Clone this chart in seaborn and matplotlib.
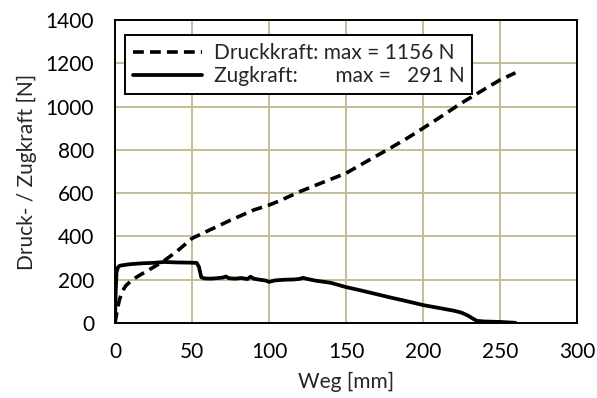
import pandas as pd
import seaborn as sns
import matplotlib.pyplot as plt

# Druckkraft (gestrichelt)
weg_druck = [0, 1, 2, 3, 5, 7, 10, 14, 18, 25, 31, 40, 50, 60, 75, 90, 100, 107,
             120, 135, 150, 163, 178, 190, 200, 212, 224, 237, 250, 260]
kraft_druck = [0, 40, 80, 110, 150, 172, 192, 212, 229, 258, 283, 330, 391, 425, 475,
               522, 545, 565, 607, 650, 692, 745, 805, 855, 900, 955, 1012, 1068, 1123, 1156]

# Zugkraft (durchgezogen)
weg_zug = [0, 0.5, 1, 2, 3.2, 6, 10, 18, 25, 32, 40, 48, 53, 54.5, 56, 58, 62, 66, 70,
           72, 74, 78, 82, 86, 88, 90, 94, 98, 100, 104, 110, 116, 120, 122, 124, 130,
           140, 150, 160, 170, 180, 190, 200, 210, 220, 225, 229, 232, 235, 240, 250, 260]
kraft_zug = [0, 150, 235, 258, 265, 268, 272, 276, 278, 282, 280, 279, 278, 260, 212, 206,
             205, 207, 210, 215, 207, 205, 208, 203, 214, 205, 200, 196, 190, 197, 200, 201,
             204, 209, 205, 196, 186, 166, 150, 133, 116, 100, 83, 70, 57, 48, 35, 22, 10,
             7, 5, 1]

label_druck = "Druckkraft: max = 1156 N"
label_zug = "Zugkraft:       max =   291 N"

x_ticks = [0, 50, 100, 150, 200, 250, 300]
y_ticks = [0, 200, 400, 600, 800, 1000, 1200, 1400]

df_druck = pd.DataFrame({"Weg": weg_druck, "Kraft": kraft_druck})
df_zug = pd.DataFrame({"Weg": weg_zug, "Kraft": kraft_zug})

sns.set_style("white")
plt.rcParams["font.family"] = ["Lato", "DejaVu Sans"]

fig, ax = plt.subplots(figsize=(5.97, 3.98), dpi=100)
fig.subplots_adjust(left=0.1926, right=0.9665, bottom=0.1884, top=0.9497)

sns.lineplot(data=df_druck, x="Weg", y="Kraft", ax=ax, color="black", lw=2.6,
             linestyle=(0, (3.0, 1.7)), sort=False, estimator=None, label=label_druck)
sns.lineplot(data=df_zug, x="Weg", y="Kraft", ax=ax, color="black", lw=2.7,
             sort=False, estimator=None, label=label_zug)

ax.set_xlim(0, 300)
ax.set_ylim(0, 1400)
ax.set_xticks(x_ticks)
ax.set_yticks(y_ticks)
ax.tick_params(length=0, labelsize=15, colors="black")
ax.tick_params(axis="y", pad=15)
ax.tick_params(axis="x", pad=14)
ax.grid(True, color="#C4BD97", lw=1.4)
ax.set_axisbelow(True)
for s in ax.spines.values():
    s.set_color("black")
    s.set_linewidth(1.4)

ax.set_xlabel("Weg [mm]", fontsize=15, labelpad=7)
ax.set_ylabel("Druck- / Zugkraft [N]", fontsize=15, labelpad=6)

leg = ax.legend(loc="upper left", bbox_to_anchor=(0.0216, 0.950), borderaxespad=0,
                fontsize=15, handlelength=3.3, handletextpad=0.58, borderpad=0.38,
                labelspacing=0.15, fancybox=False, framealpha=1, edgecolor="black")
leg.get_frame().set_linewidth(1.4)

plt.savefig("out.png", dpi=100)
